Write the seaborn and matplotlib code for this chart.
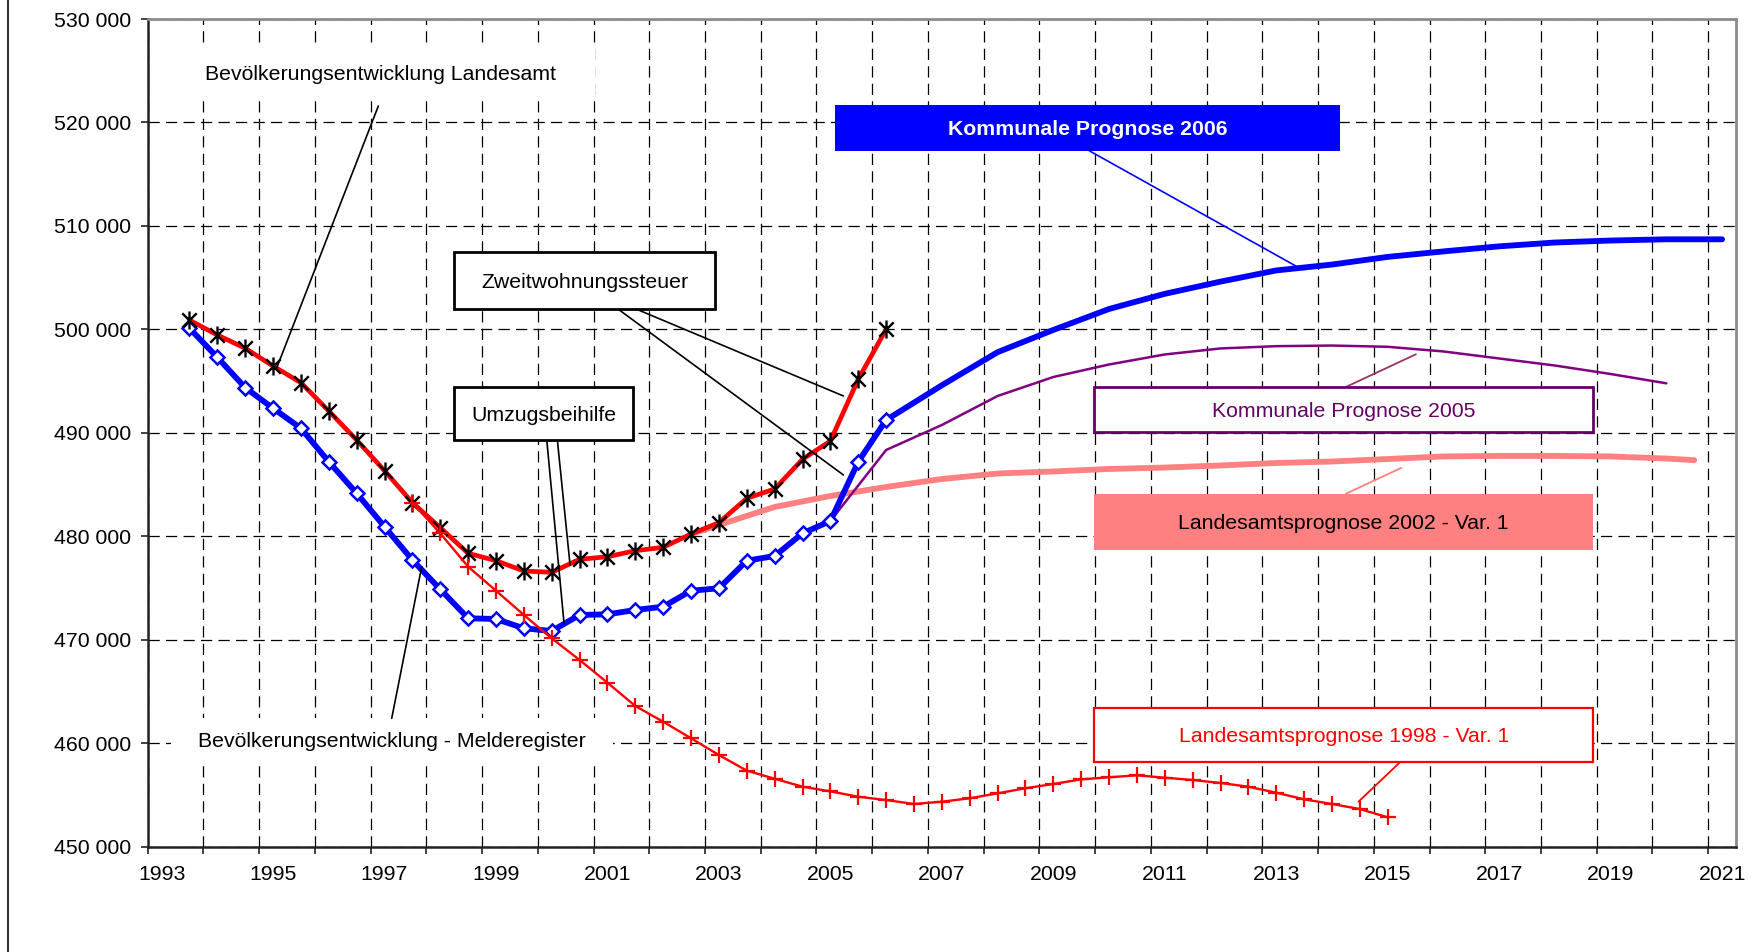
import matplotlib
matplotlib.use("Agg")
import matplotlib.pyplot as plt
import seaborn as sns
import pandas as pd
from matplotlib.patches import Rectangle
from matplotlib.path import Path
from matplotlib.lines import Line2D
from matplotlib.ticker import FixedLocator, FuncFormatter, NullFormatter

# ---------------- data ----------------
obs_years = [1993.5, 1994.0, 1994.5, 1995.0, 1995.5, 1996.0, 1996.5, 1997.0, 1997.5,
             1998.0, 1998.5, 1999.0, 1999.5, 2000.0, 2000.5, 2001.0, 2001.5, 2002.0,
             2002.5, 2003.0, 2003.5, 2004.0, 2004.5, 2005.0, 2005.5, 2006.0]
melderegister = [500110, 497300, 494370, 492380, 490440, 487210, 484160, 480930, 477710,
                 474880, 472080, 472010, 471110, 470850, 472400, 472460, 472880, 473200,
                 474745, 474980, 477645, 478100, 480290, 481480, 487210, 491245]
landesamt = [500900, 499460, 498180, 496460, 494850, 492110, 489310, 486340, 483250,
             480835, 478360, 477645, 476650, 476520, 477780, 478030, 478610, 478940,
             480225, 481320, 483680, 484575, 487450, 489210, 495180, 500010]

p1998_years = [1997.5, 1998.0, 1998.5, 1999.0, 1999.5, 2000.0, 2000.5, 2001.0, 2001.5,
               2002.0, 2002.5, 2003.0, 2003.5, 2004.0, 2004.5, 2005.0, 2005.5, 2006.0,
               2006.5, 2007.0, 2007.5, 2008.0, 2008.5, 2009.0, 2009.5, 2010.0, 2010.5,
               2011.0, 2011.5, 2012.0, 2012.5, 2013.0, 2013.5, 2014.0, 2014.5, 2015.0]
prognose_1998 = [483250, 480290, 477065, 474745, 472400, 470140, 468050, 465850, 463600,
                 462080, 460480, 458860, 457350, 456570, 455800, 455350, 454830, 454510,
                 454130, 454350, 454680, 455160, 455650, 456060, 456510, 456710, 456900,
                 456670, 456450, 456160, 455800, 455220, 454580, 454130, 453640, 452840]

p2002_years = [2002.5, 2003, 2004, 2005, 2006, 2007, 2008, 2009, 2010, 2011, 2012,
               2013, 2014, 2015, 2016, 2017, 2018, 2019, 2020, 2020.5]
prognose_2002 = [480225, 481100, 482840, 483900, 484770, 485540, 486070, 486270, 486510,
                 486650, 486850, 487090, 487230, 487475, 487720, 487770, 487770, 487720,
                 487520, 487360]

k2005_years = [2005, 2006, 2007, 2008, 2009, 2010, 2011, 2012, 2013, 2014, 2015, 2016,
               2017, 2018, 2019, 2020]
kommunal_2005 = [481480, 488345, 490760, 493565, 495400, 496610, 497580, 498160, 498380,
                 498440, 498320, 497870, 497190, 496510, 495690, 494790]

k2006_years = [2006, 2007, 2008, 2009, 2010, 2011, 2012, 2013, 2014, 2015, 2016, 2017,
               2018, 2019, 2020, 2021]
kommunal_2006 = [491245, 494600, 497800, 499950, 501975, 503440, 504620, 505700, 506270,
                 507010, 507540, 508030, 508400, 508590, 508710, 508710]

y_ticks = [450000, 460000, 470000, 480000, 490000, 500000, 510000, 520000, 530000]
x_labels = [1993, 1995, 1997, 1999, 2001, 2003, 2005, 2007, 2009, 2011, 2013, 2015,
            2017, 2019, 2021]

# ---------------- style ----------------
sns.set_theme(style="white")
plt.rcParams['font.family'] = ['Liberation Sans', 'DejaVu Sans']

fig = plt.figure(figsize=(17.58, 9.52), dpi=100)
ax = fig.add_axes([0.0840, 0.1106, 0.9035, 0.8694])

BLUE = "#0000FF"
RED = "#FF0000"
SALMON = "#FF8080"
PURPLE = "#800080"
PURPLE_TXT = "#660066"

# star marker (X plus vertical bar)
star = Path([(-1, -1), (1, 1), (-1, 1), (1, -1), (0, -1.25), (0, 1.25)],
            [Path.MOVETO, Path.LINETO, Path.MOVETO, Path.LINETO, Path.MOVETO, Path.LINETO])

def df(x, y):
    return pd.DataFrame({"x": x, "y": y})

sns.lineplot(data=df(p2002_years, prognose_2002), x="x", y="y", ax=ax, color=SALMON,
             lw=4.2, sort=False, zorder=3, solid_capstyle="round")
sns.lineplot(data=df(k2005_years, kommunal_2005), x="x", y="y", ax=ax, color=PURPLE,
             lw=1.8, sort=False, zorder=4)
sns.lineplot(data=df(k2006_years, kommunal_2006), x="x", y="y", ax=ax, color=BLUE,
             lw=4.2, sort=False, zorder=5, solid_capstyle="round")
sns.lineplot(data=df(obs_years, melderegister), x="x", y="y", ax=ax, color=BLUE,
             lw=4.2, sort=False, zorder=6, marker="D", markersize=7.5,
             markerfacecolor="white", markeredgecolor=BLUE, markeredgewidth=1.8)
sns.lineplot(data=df(obs_years, landesamt), x="x", y="y", ax=ax, color=RED,
             lw=3.4, sort=False, zorder=7, marker=star, markersize=13,
             markerfacecolor="none", markeredgecolor="black", markeredgewidth=1.7)
sns.lineplot(data=df(p1998_years, prognose_1998), x="x", y="y", ax=ax, color=RED,
             lw=1.7, sort=False, zorder=8, marker="+", markersize=12,
             markeredgecolor=RED, markeredgewidth=1.6)

# ---------------- axes ----------------
ax.set_xlim(1992.75, 2021.25)
ax.set_ylim(450000, 530000)
ax.set_xlabel("")
ax.set_ylabel("")

grid_x = [1992.75 + k for k in range(29)]
ax.xaxis.set_major_locator(FixedLocator(grid_x))
ax.xaxis.set_major_formatter(NullFormatter())
ax.xaxis.set_minor_locator(FixedLocator(x_labels))
ax.xaxis.set_minor_formatter(FuncFormatter(lambda v, p: f"{int(round(v))}"))
ax.yaxis.set_major_locator(FixedLocator(y_ticks))
ax.yaxis.set_major_formatter(FuncFormatter(lambda v, p: f"{int(v):,}".replace(",", " ")))

FS = 15.3
ax.tick_params(axis="x", which="major", direction="out", length=5, width=1.2,
               color="#222222", bottom=True)
ax.tick_params(axis="x", which="minor", length=0, pad=13.5, labelsize=FS,
               labelcolor="black", bottom=True)
ax.tick_params(axis="y", which="major", direction="out", length=5, width=1.2,
               color="#222222", pad=7, labelsize=FS, labelcolor="black", left=True)

ax.grid(True, which="major", axis="both", color="black", lw=0.9,
        linestyle=(0, (9, 5)), zorder=0.5)
ax.set_axisbelow(True)

for side in ["left", "bottom"]:
    ax.spines[side].set_color("#222222")
    ax.spines[side].set_linewidth(1.8)
for side in ["top", "right"]:
    ax.spines[side].set_color("#8c8c8c")
    ax.spines[side].set_linewidth(2.0)

# figure frame line on the left
fig.add_artist(Line2D([8 / 1758, 8 / 1758], [0, 1], transform=fig.transFigure,
                      color="#333333", lw=1.5))


def box(x0, x1, y0, y1, face, edge, lw, text, tcolor, weight="normal"):
    if edge is None:
        r = Rectangle((x0, y0), x1 - x0, y1 - y0, facecolor=face, edgecolor="none",
                      zorder=9)
    else:
        r = Rectangle((x0, y0), x1 - x0, y1 - y0, facecolor=face, edgecolor=edge,
                      lw=lw, zorder=9)
    ax.add_patch(r)
    ax.text((x0 + x1) / 2, (y0 + y1) / 2, text, ha="center", va="center_baseline",
            fontsize=FS, color=tcolor, fontweight=weight, zorder=10)

def leader(x0, y0, x1, y1, color="black", lw=1.2):
    ax.add_line(Line2D([x0, x1], [y0, y1], color=color, lw=lw, zorder=8.5))

# white-background text labels
ax.add_patch(Rectangle((1993.15, 522176), 2000.78 - 1993.15, 527492 - 522176,
                       facecolor="white", edgecolor="none", zorder=2))
ax.text(1996.93, 524786, "Bevölkerungsentwicklung Landesamt", ha="center",
        va="center_baseline", fontsize=FS, color="black", zorder=10)
ax.add_patch(Rectangle((1993.17, 458187), 2001.10 - 1993.17, 462440 - 458187,
                       facecolor="white", edgecolor="none", zorder=2))
ax.text(1997.13, 460410, "Bevölkerungsentwicklung - Melderegister", ha="center",
        va="center_baseline", fontsize=FS, color="black", zorder=10)

leader(1996.889, 521596, 1995.065, 496271)
leader(1997.129, 462411, 1997.667, 477065)

# boxed labels
box(1998.247, 2002.93, 501945, 507455, "white", "black", 2.0, "Zweitwohnungssteuer", "black")
leader(2001.196, 501945, 2005.234, 485929)
leader(2001.526, 501945, 2005.234, 493565)

box(1998.25, 2001.465, 489310, 494405, "white", "black", 2.0, "Umzugsbeihilfe", "black")
leader(1999.911, 489310, 2000.221, 471594)
leader(2000.101, 489310, 2000.329, 477229)

box(2005.081, 2014.137, 517275, 521693, BLUE, None, 0, "Kommunale Prognose 2006",
    "white", weight="bold")
leader(2009.643, 517275, 2013.425, 505908, color=BLUE, lw=1.2)

box(2009.733, 2018.688, 490037, 494435, "white", PURPLE_TXT, 2.0,
    "Kommunale Prognose 2005", PURPLE_TXT)
leader(2014.248, 494435, 2015.506, 497595, color="#993366", lw=1.3)

box(2009.733, 2018.688, 478718, 484111, SALMON, None, 0,
    "Landesamtsprognose 2002 - Var. 1", "black")
leader(2014.248, 484111, 2015.243, 486615, color=SALMON, lw=1.3)

box(2009.733, 2018.688, 458187, 463455, "white", RED, 1.6,
    "Landesamtsprognose 1998 - Var. 1", RED)
leader(2015.225, 458187, 2014.476, 454350, color=RED, lw=1.3)

fig.savefig("out.png", dpi=100)
